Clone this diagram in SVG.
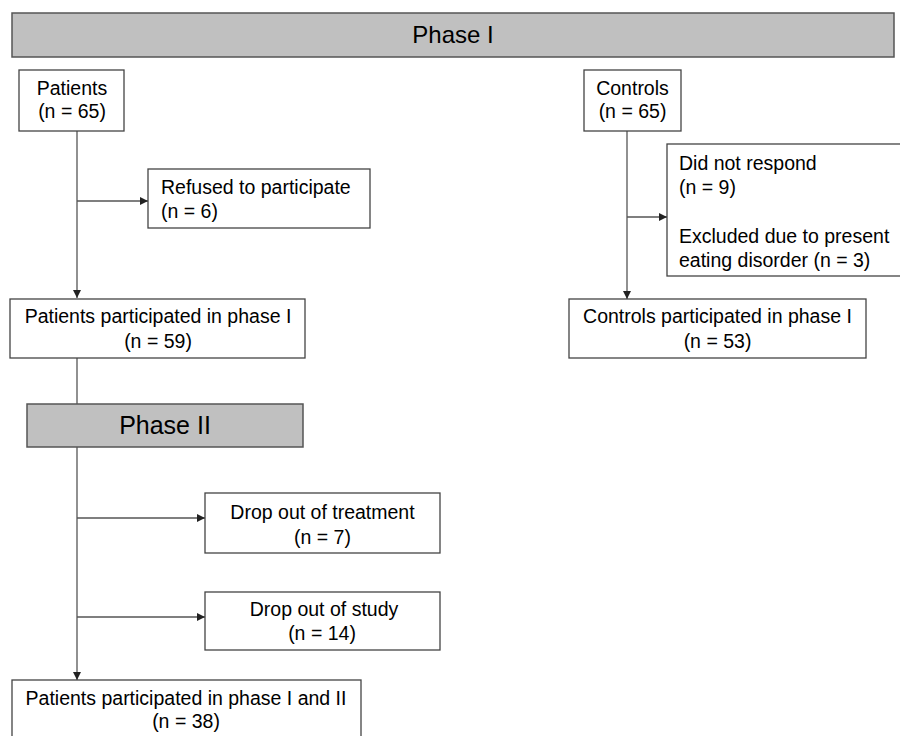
<svg xmlns="http://www.w3.org/2000/svg" width="900" height="736" viewBox="0 0 900 736">
<defs>
<style>
.bg{fill:#ffffff}
.box{fill:#ffffff;stroke:#444444;stroke-width:1.3}
.bar{fill:#c0c0c0;stroke:#555555;stroke-width:1.5}
.t{font-family:"Liberation Sans",Arial,sans-serif;font-size:19.5px;fill:#000000}
.c{text-anchor:middle}
.title{font-family:"Liberation Sans",Arial,sans-serif;font-size:24px;fill:#000000;text-anchor:middle}
.ln{fill:none;stroke:#555555;stroke-width:1.3}
.arr{fill:none;stroke:#555555;stroke-width:1.3;marker-end:url(#ah)}
</style>
<marker id="ah" viewBox="0 0 10 10" refX="10" refY="5" markerWidth="8" markerHeight="8" markerUnits="userSpaceOnUse" orient="auto">
<path d="M0,0 L10,5 L0,10 Z" fill="#222222"/>
</marker>
</defs>
<rect class="bg" x="0" y="0" width="900" height="736"/>
<g id="connectors">
<line class="arr" x1="77" y1="131" x2="77" y2="298"/>
<line class="arr" x1="77" y1="201" x2="148" y2="201"/>
<line class="ln" x1="77" y1="358" x2="77" y2="404"/>
<line class="arr" x1="77" y1="447" x2="77" y2="680"/>
<line class="arr" x1="77" y1="518" x2="205" y2="518"/>
<line class="arr" x1="77" y1="617" x2="205" y2="617"/>
<line class="arr" x1="627" y1="131" x2="627" y2="299"/>
<line class="arr" x1="627" y1="217" x2="667" y2="217"/>
</g>
<g id="phase1">
<rect class="bar" x="12" y="13" width="882" height="44"/>
<text class="title" x="453" y="43">Phase I</text>
</g>
<g id="patients">
<rect class="box" x="19" y="70" width="105" height="61"/>
<text class="t c" x="72" y="95">Patients</text>
<text class="t c" x="72" y="118">(n = 65)</text>
</g>
<g id="controls">
<rect class="box" x="584" y="70" width="97" height="61"/>
<text class="t c" x="632.5" y="95">Controls</text>
<text class="t c" x="632.5" y="118">(n = 65)</text>
</g>
<g id="refused">
<rect class="box" x="148" y="169" width="222" height="59"/>
<text class="t" x="161" y="194">Refused to participate</text>
<text class="t" x="161" y="218">(n = 6)</text>
</g>
<g id="patients-phase1">
<rect class="box" x="10" y="299" width="295" height="59"/>
<text class="t c" x="158" y="323">Patients participated in phase I</text>
<text class="t c" x="158" y="348">(n = 59)</text>
</g>
<g id="phase2">
<rect class="bar" x="27" y="404" width="276" height="43"/>
<text class="title" x="165" y="434" style="font-size:25px">Phase II</text>
</g>
<g id="dropout-treatment">
<rect class="box" x="205" y="493" width="235" height="60"/>
<text class="t c" x="322.5" y="519">Drop out of treatment</text>
<text class="t c" x="322.5" y="544">(n = 7)</text>
</g>
<g id="dropout-study">
<rect class="box" x="205" y="592" width="235" height="58"/>
<text class="t c" x="324" y="616">Drop out of study</text>
<text class="t c" x="322" y="640">(n = 14)</text>
</g>
<g id="patients-phase12">
<rect class="box" x="12" y="680" width="349" height="70"/>
<text class="t c" x="186" y="705">Patients participated in phase I and II</text>
<text class="t c" x="186" y="728">(n = 38)</text>
</g>
<g id="controls-excluded">
<rect class="box" x="667" y="144" width="250" height="132"/>
<text class="t" x="679" y="170">Did not respond</text>
<text class="t" x="679" y="194">(n = 9)</text>
<text class="t" x="679" y="243">Excluded due to present</text>
<text class="t" x="679" y="267">eating disorder (n = 3)</text>
</g>
<g id="controls-phase1">
<rect class="box" x="569" y="299" width="297" height="59"/>
<text class="t c" x="717.5" y="323">Controls participated in phase I</text>
<text class="t c" x="717.5" y="348">(n = 53)</text>
</g>
</svg>
